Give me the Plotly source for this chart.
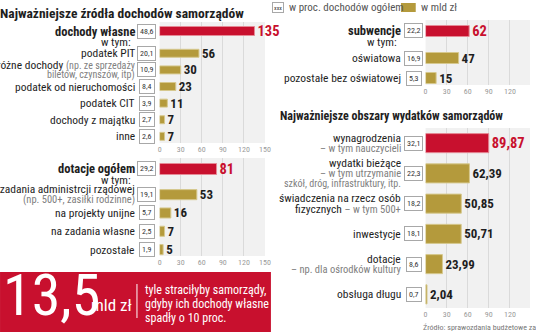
import plotly.graph_objects as go

# ---------------- data ----------------
inc_cats = ["dochody własne", "podatek PIT", "różne dochody", "podatek od nieruchomości",
            "podatek CIT", "dochody z majątku", "inne"]
inc_vals = [135, 56, 30, 23, 11, 7, 7]
inc_pct = [48.6, 20.1, 10.9, 8.4, 3.9, 2.7, 2.6]

dot_cats = ["dotacje ogółem", "na zadania administrcji rządowej", "na projekty unijne",
            "na zadania własne", "pozostałe"]
dot_vals = [81, 53, 16, 7, 5]
dot_pct = [29.2, 19.1, 5.7, 2.5, 1.9]

sub_cats = ["subwencje", "oświatowa", "pozostałe bez oświatowej"]
sub_vals = [62, 47, 15]
sub_pct = [22.2, 16.9, 5.3]

exp_cats = ["wynagrodzenia", "wydatki bieżące", "świadczenia na rzecz osób", "inwestycje",
            "dotacje", "obsługa długu"]
exp_vals = [89.87, 62.39, 50.85, 50.71, 23.99, 2.04]
exp_pct = [32.1, 22.3, 18.2, 18.1, 8.6, 0.7]

tick_vals = [0, 30, 60, 90, 120, 150]

GRAY = "#808080"


def g(t, size=10.5):
    return f"<span style='color:{GRAY};font-size:{size}px'>{t}</span>"


inc_sub = {"różne dochody": ["różne dochody " + g("(np. ze sprzedaży", 10), g("biletów, czynszów, itp)", 10)]}
dot_sub = {"na zadania administrcji rządowej": ["na zadania administrcji rządowej",
                                                g("(np. 500+, zasiłki rodzinne)")]}
exp_sub = {
    "wynagrodzenia": ["wynagrodzenia", g("– w tym nauczycieli")],
    "wydatki bieżące": ["wydatki bieżące", g("– w tym utrzymanie"),
                        g("szkół, dróg, infrastruktury, itp.", 10)],
    "świadczenia na rzecz osób": ["świadczenia na rzecz osób", "fizycznych " + g("– w tym 500+")],
    "dotacje": ["dotacje", g("– np. dla ośrodków kultury")],
}

# ---------------- style ----------------
W, H = 536, 332
F = "Liberation Sans Narrow, Roboto Condensed, DejaVu Sans Condensed, Arial Narrow, sans-serif"
RED = "#c8102e"
GOLD = "#b49a3c"
DARK = "#1e1e1e"
LAB = 11.5


def px(x):
    return x / W


def py(y):
    return 1 - y / H


fig = go.Figure()

L = (160, 267)
R = (430, 536)
LR = [0, 150]
RR = [0, 148.6]
# cats, vals, pct, subs, x domain px, y domain px, y range, label right px, box center px,
# bar width, x range, head row?, tick labels?
panels = [
    (inc_cats[:1], inc_vals[:1], inc_pct[:1], {}, L, (22, 40), [0.5, -0.5], 137, 147, 0.5, LR, True, False),
    (inc_cats[1:], inc_vals[1:], inc_pct[1:], inc_sub, L, (40, 143), [5.4, -0.8], 137, 147, 0.48, LR, False, True),
    (dot_cats[:1], dot_vals[:1], dot_pct[:1], {}, L, (158, 180), [0.5, -0.5], 137, 147, 0.5, LR, True, False),
    (dot_cats[1:], dot_vals[1:], dot_pct[1:], dot_sub, L, (180, 256), [3.35, -0.8], 137, 147, 0.55, LR, False, True),
    (sub_cats[:1], sub_vals[:1], sub_pct[:1], {}, R, (20, 42), [0.5, -0.5], 407, 418, 0.5, RR, True, False),
    (sub_cats[1:], sub_vals[1:], sub_pct[1:], {}, R, (42, 85), [1.35, -0.8], 407, 418, 0.55, RR, False, True),
    (exp_cats, exp_vals, exp_pct, exp_sub, R, (128, 308), [5.45, -0.5], 407, 418, 0.63, RR, False, True),
]

annotations = []
shapes = []
for i, (cats, vals, pct, subs, xd, yd, yr, lab_r, box_c, bw, xr, head, showt) in enumerate(panels, start=1):
    sfx = "" if i == 1 else str(i)
    xa, ya = "x" + sfx, "y" + sfx
    first_red = head or i == 7
    n = len(vals)
    hot = [k == 0 and first_red for k in range(n)]
    colors = [RED if h else GOLD for h in hot]
    lcolors = ["#e58a96" if h else "#d6c88e" for h in hot]
    tcolors = [RED if h else DARK for h in hot]
    tsizes = [14.5 if h else 13 for h in hot]
    if i == 7:
        texts = [("%.2f" % v).replace(".", ",") for v in vals]
    else:
        texts = [("%g" % v).replace(".", ",") for v in vals]
    fig.add_trace(go.Bar(
        x=vals, y=cats, orientation="h", xaxis=xa, yaxis=ya,
        marker=dict(color=colors, line=dict(color=lcolors, width=1)),
        width=bw, text=texts, texttemplate="<b>%{text}</b>", textposition="outside",
        constraintext="none", cliponaxis=False,
        textfont=dict(family=F, color=tcolors, size=tsizes),
        hoverinfo="skip", showlegend=False,
    ))
    fig.layout["xaxis" + sfx] = dict(
        domain=[px(xd[0]), min(1, px(xd[1]))], range=xr, anchor=ya,
        tickvals=tick_vals, ticks="", showgrid=True, gridcolor="#dadada", gridwidth=1,
        zeroline=False, showline=False, showticklabels=showt, ticklabelstandoff=0,
        tickfont=dict(family=F, size=8, color="#9a9a9a"), fixedrange=True,
    )
    fig.layout["yaxis" + sfx] = dict(
        domain=[py(yd[1]), py(yd[0])], type="category", categoryorder="array",
        categoryarray=cats, range=yr, anchor=xa, showticklabels=False,
        showgrid=False, zeroline=False, showline=False, fixedrange=True,
    )
    for j, c in enumerate(cats):
        if head:
            annotations.append(dict(x=px(lab_r), xref="paper", y=c, yref=ya, xanchor="right",
                                    yanchor="middle", text=f"<b>{c}</b>", showarrow=False,
                                    font=dict(family=F, size=12.5, color=DARK)))
            annotations.append(dict(x=px(lab_r - 4), xref="paper", y=c, yref=ya, xanchor="right",
                                    yanchor="middle", yshift=-11, text="w tym:", showarrow=False,
                                    font=dict(family=F, size=LAB, color=DARK)))
        else:
            lines = subs.get(c, [c])
            m = len(lines)
            for k, t in enumerate(lines):
                shift = ((m - 1) / 2 - k) * 10.5
                annotations.append(dict(x=px(lab_r), xref="paper", y=c, yref=ya, xanchor="right",
                                        yanchor="middle", yshift=shift, text=t, showarrow=False,
                                        font=dict(family=F, size=LAB, color=DARK)))
        annotations.append(dict(x=px(box_c), xref="paper", y=c, yref=ya, xanchor="center",
                                yanchor="middle", text=("%.1f" % pct[j]).replace(".", ","),
                                showarrow=False, bordercolor="#a8a8a8", borderwidth=1, borderpad=2,
                                bgcolor="white", font=dict(family=F, size=8, color="#333333")))

# titles
annotations.append(dict(x=px(-4), y=py(13), xref="paper", yref="paper", xanchor="left", yanchor="middle",
                        text="<b>Najważniejsze źródła dochodów samorządów</b>", showarrow=False,
                        font=dict(family=F, size=13.5, color=DARK)))
annotations.append(dict(x=px(280), y=py(116), xref="paper", yref="paper", xanchor="left", yanchor="middle",
                        text="<b>Najważniejsze obszary wydatków samorządów</b>", showarrow=False,
                        font=dict(family=F, size=12, color=DARK)))

# legend
annotations.append(dict(x=px(280), y=py(7), xref="paper", yref="paper", xanchor="center", yanchor="middle",
                        text="xxx", showarrow=False, bordercolor="#a8a8a8", borderwidth=1, borderpad=1,
                        bgcolor="white", font=dict(family=F, size=6, color="#333333")))
annotations.append(dict(x=px(289), y=py(7), xref="paper", yref="paper", xanchor="left", yanchor="middle",
                        text="w proc. dochodów ogółem", showarrow=False,
                        font=dict(family=F, size=11, color="#555555")))
shapes.append(dict(type="rect", xref="paper", yref="paper", x0=px(405), x1=px(420), y0=py(12), y1=py(3),
                   fillcolor=GOLD, line=dict(width=0)))
annotations.append(dict(x=px(423), y=py(7), xref="paper", yref="paper", xanchor="left", yanchor="middle",
                        text="w mld zł", showarrow=False, font=dict(family=F, size=11, color="#555555")))

# source
annotations.append(dict(x=px(425), y=py(327), xref="paper", yref="paper", xanchor="left", yanchor="middle",
                        text="Źródło: sprawozdania budżetowe za 2017", showarrow=False,
                        font=dict(family=F, size=8, color="#777777")))

# red banner
shapes.append(dict(type="rect", xref="paper", yref="paper", x0=px(-2), x1=px(273), y0=py(334), y1=py(272),
                   fillcolor=RED, line=dict(width=0), layer="below"))
shapes.append(dict(type="line", xref="paper", yref="paper", x0=px(137), x1=px(137), y0=py(318), y1=py(284),
                   line=dict(color="white", width=1)))
annotations.append(dict(x=px(-1), y=py(295), xref="paper", yref="paper", xanchor="left", yanchor="middle",
                        text="13,5", showarrow=False, font=dict(family=F, size=58, color="white")))
annotations.append(dict(x=px(88), y=py(305), xref="paper", yref="paper", xanchor="left", yanchor="middle",
                        text="mld zł", showarrow=False, font=dict(family=F, size=17, color="white")))
for k, t in enumerate(["tyle straciłyby samorządy,", "gdyby ich dochody własne", "spadły o 10 proc."]):
    annotations.append(dict(x=px(143), y=py(290 + 14 * k), xref="paper", yref="paper", xanchor="left",
                            yanchor="middle", text=t, showarrow=False,
                            font=dict(family=F, size=12, color="white")))

fig.update_layout(
    width=W, height=H, margin=dict(l=0, r=0, t=0, b=0),
    paper_bgcolor="white", plot_bgcolor="#f1f1f1",
    annotations=annotations, shapes=shapes,
    font=dict(family=F),
)
fig.write_html("out.html", config={"displayModeBar": False})
